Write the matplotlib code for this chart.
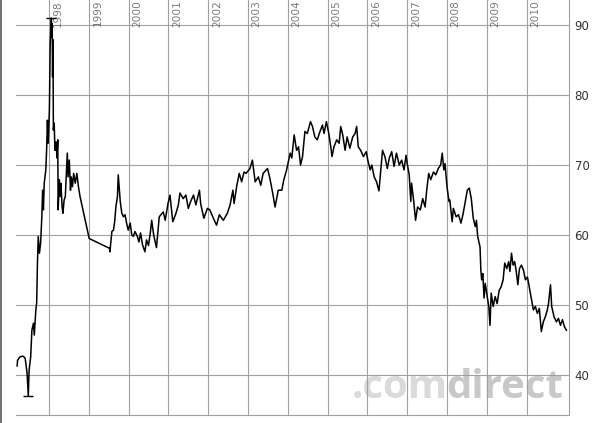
import matplotlib
matplotlib.use("Agg")
import matplotlib.pyplot as plt
from matplotlib.lines import Line2D
import numpy as np

# Price history (fractional year, price)
years = [
    1997.20, 1997.21, 1997.27, 1997.35, 1997.40, 1997.42, 1997.45, 1997.48, 1997.50, 1997.54,
    1997.57, 1997.61, 1997.63, 1997.67, 1997.69, 1997.71, 1997.73, 1997.76, 1997.79, 1997.82,
    1997.84, 1997.86, 1997.88, 1997.92, 1997.94, 1997.96, 1997.98, 1998.01, 1998.03, 1998.06,
    1998.07, 1998.08, 1998.09, 1998.10, 1998.11, 1998.13, 1998.15, 1998.18, 1998.20, 1998.22,
    1998.23, 1998.26, 1998.28, 1998.30, 1998.33, 1998.35, 1998.38, 1998.41, 1998.44, 1998.46,
    1998.48, 1998.51, 1998.54, 1998.56, 1998.59, 1998.62, 1998.66, 1998.70, 1998.74, 1998.78,
    1999.01, 1999.52, 1999.53, 1999.55, 1999.58, 1999.62, 1999.65, 1999.68, 1999.72, 1999.74,
    1999.77, 1999.79, 1999.83, 1999.87, 1999.91, 1999.95, 1999.99, 2000.04, 2000.08, 2000.12,
    2000.16, 2000.22, 2000.26, 2000.30, 2000.35, 2000.41, 2000.45, 2000.50, 2000.55, 2000.58,
    2000.63, 2000.70, 2000.77, 2000.87, 2000.92, 2000.99, 2001.04, 2001.11, 2001.19, 2001.25,
    2001.29, 2001.37, 2001.44, 2001.50, 2001.56, 2001.63, 2001.69, 2001.78, 2001.81, 2001.89,
    2001.98, 2002.04, 2002.13, 2002.21, 2002.28, 2002.38, 2002.48, 2002.55, 2002.62, 2002.65,
    2002.72, 2002.78, 2002.84, 2002.90, 2002.95, 2003.05, 2003.11, 2003.18, 2003.26, 2003.32,
    2003.38, 2003.49, 2003.55, 2003.62, 2003.68, 2003.76, 2003.85, 2003.90, 2003.97, 2004.06,
    2004.10, 2004.16, 2004.22, 2004.27, 2004.32, 2004.37, 2004.43, 2004.49, 2004.57, 2004.62,
    2004.68, 2004.74, 2004.81, 2004.87, 2004.91, 2004.97, 2005.03, 2005.08, 2005.11, 2005.16,
    2005.23, 2005.29, 2005.33, 2005.38, 2005.44, 2005.49, 2005.56, 2005.63, 2005.69, 2005.73,
    2005.77, 2005.83, 2005.90, 2005.97, 2006.01, 2006.07, 2006.11, 2006.17, 2006.23, 2006.29,
    2006.33, 2006.38, 2006.44, 2006.50, 2006.55, 2006.61, 2006.67, 2006.73, 2006.80, 2006.86,
    2006.92, 2006.97, 2007.00, 2007.05, 2007.09, 2007.11, 2007.16, 2007.21, 2007.26, 2007.33,
    2007.39, 2007.45, 2007.49, 2007.54, 2007.59, 2007.66, 2007.72, 2007.78, 2007.84, 2007.88,
    2007.92, 2007.95, 2008.00, 2008.05, 2008.07, 2008.13, 2008.16, 2008.23, 2008.29, 2008.35,
    2008.40, 2008.45, 2008.51, 2008.56, 2008.61, 2008.66, 2008.71, 2008.74, 2008.77, 2008.83,
    2008.85, 2008.87, 2008.90, 2008.93, 2008.96, 2009.01, 2009.05, 2009.08, 2009.11, 2009.16,
    2009.21, 2009.26, 2009.31, 2009.36, 2009.41, 2009.45, 2009.50, 2009.55, 2009.58, 2009.62,
    2009.66, 2009.70, 2009.74, 2009.78, 2009.82, 2009.87, 2009.92, 2009.97, 2010.02, 2010.05,
    2010.11, 2010.17, 2010.22, 2010.27, 2010.32, 2010.37, 2010.42, 2010.47, 2010.52, 2010.55,
    2010.60, 2010.63, 2010.69, 2010.75, 2010.80, 2010.85, 2010.90, 2010.95, 2011.00,
]
prices = [
    41.3, 42.1, 42.6, 42.7, 42.4, 41.6, 40.2, 37.0, 40.7, 42.6,
    46.4, 47.4, 45.7, 49.3, 50.3, 56.0, 59.8, 57.4, 58.9, 62.6,
    66.4, 63.6, 67.4, 69.3, 72.1, 76.4, 73.1, 77.9, 87.4, 91.0,
    88.3, 90.2, 82.6, 87.9, 75.0, 76.0, 72.1, 73.3, 71.0, 73.6,
    63.6, 67.9, 65.5, 67.4, 64.0, 63.1, 65.0, 65.5, 69.3, 71.7,
    68.3, 70.7, 66.4, 68.3, 66.9, 68.8, 67.4, 68.8, 66.9, 65.5,
    59.5, 58.1, 57.6, 58.8, 60.5, 60.7, 61.9, 64.0, 65.5, 68.6,
    66.4, 64.8, 63.1, 62.6, 62.9, 61.7, 60.7, 61.7, 60.0, 59.8,
    60.5, 59.8, 59.0, 60.3, 58.6, 57.6, 59.3, 58.5, 60.5, 62.1,
    60.0, 58.2, 62.6, 63.3, 62.1, 64.5, 65.7, 61.9, 63.1, 64.3,
    66.0, 65.2, 65.7, 63.8, 64.8, 65.7, 64.3, 66.4, 64.5, 62.4,
    63.8, 63.6, 62.4, 61.4, 62.9, 62.1, 63.1, 64.3, 66.4, 64.5,
    67.1, 68.8, 67.6, 69.0, 68.8, 69.5, 70.7, 67.6, 68.3, 67.1,
    68.8, 69.5, 68.1, 66.0, 64.0, 66.4, 66.4, 67.9, 69.3, 71.7,
    71.0, 74.3, 72.1, 72.6, 70.0, 71.2, 74.8, 74.5, 76.2, 75.5,
    74.0, 73.6, 74.8, 75.7, 74.5, 76.2, 74.5, 72.6, 71.2, 72.6,
    73.6, 73.1, 75.5, 74.3, 72.1, 74.0, 72.4, 74.0, 74.5, 75.5,
    72.6, 72.1, 71.2, 71.9, 70.7, 69.3, 70.0, 68.3, 67.6, 66.3,
    68.8, 72.1, 71.2, 69.5, 71.0, 71.9, 69.8, 71.7, 70.0, 70.7,
    69.3, 71.4, 70.2, 68.6, 64.8, 67.4, 65.0, 62.1, 64.0, 63.6,
    65.2, 64.0, 66.4, 68.8, 67.9, 69.0, 68.6, 69.5, 70.0, 71.7,
    69.3, 70.2, 66.9, 64.8, 65.0, 61.9, 63.8, 62.6, 62.9, 61.7,
    62.9, 64.5, 66.4, 66.7, 65.2, 62.4, 61.2, 62.1, 59.8, 58.3,
    55.0, 53.6, 54.5, 51.0, 53.1, 51.2, 49.8, 47.1, 51.7, 49.8,
    51.2, 50.2, 52.1, 52.6, 53.6, 56.0, 55.2, 56.2, 54.8, 57.4,
    55.7, 56.2, 54.8, 52.9, 55.2, 55.7, 55.0, 53.6, 54.0, 53.1,
    51.2, 49.3, 49.8, 48.8, 49.5, 46.2, 47.6, 48.3, 49.3, 50.2,
    52.9, 49.8, 48.3, 47.6, 48.1, 47.1, 47.9, 46.9, 46.4,
]
year_lines = list(range(1998, 2011))
price_ticks = [40, 50, 60, 70, 80, 90]

grid_col = '#a0a0a0'

fig = plt.figure(figsize=(6.08, 4.23), dpi=100)
ax = fig.add_axes([16/608, 8/423, 553/608, 415/423])
ax.set_xlim(1997.171, 2011.065)
ax.set_ylim(34.29, 93.57)

for s in ['top', 'left']:
    ax.spines[s].set_visible(False)
for s in ['bottom', 'right']:
    ax.spines[s].set_color(grid_col)
    ax.spines[s].set_linewidth(0.8)

# grid
for yr in year_lines:
    ax.axvline(yr, color=grid_col, lw=0.8, zorder=1)
    ax.annotate(str(yr), xy=(yr, 1), xycoords=('data', 'axes fraction'),
                xytext=(2.6, 0), textcoords='offset points', rotation=90,
                ha='left', va='top', fontsize=7.6, color='#7a7a7a')
for p in price_ticks:
    ax.axhline(p, color=grid_col, lw=0.8, zorder=1)

ax.set_xticks([])
ax.yaxis.tick_right()
ax.set_yticks(price_ticks)
ax.tick_params(axis='y', length=0, pad=4, labelsize=8.5, labelcolor='#333333')

# watermark
ax.text(336/553, 0.041, '.com', transform=ax.transAxes, ha='left', va='baseline',
        fontsize=29, fontweight='bold', family='Open Sans', color='#dadada', zorder=0)
ax.text(547/553, 0.041, 'direct', transform=ax.transAxes, ha='right', va='baseline',
        fontsize=29, fontweight='bold', family='Open Sans', color='#c8c8c8', zorder=0)

# price line
ax.plot(years, prices, color='black', lw=1.1, zorder=3)

# high / low markers
i_hi = int(np.argmax(prices))
i_lo = int(np.argmin(prices))
ax.plot(years[i_hi], prices[i_hi], marker='_', ms=7.5, mew=1.0, color='black', zorder=4)
ax.plot(years[i_lo], prices[i_lo], marker='_', ms=7.5, mew=1.0, color='black', zorder=4)

fig.add_artist(Line2D([0.002, 0.002], [0, 1], color='#707070', lw=1.4,
                      transform=fig.transFigure))

fig.savefig('out.png', dpi=100)
